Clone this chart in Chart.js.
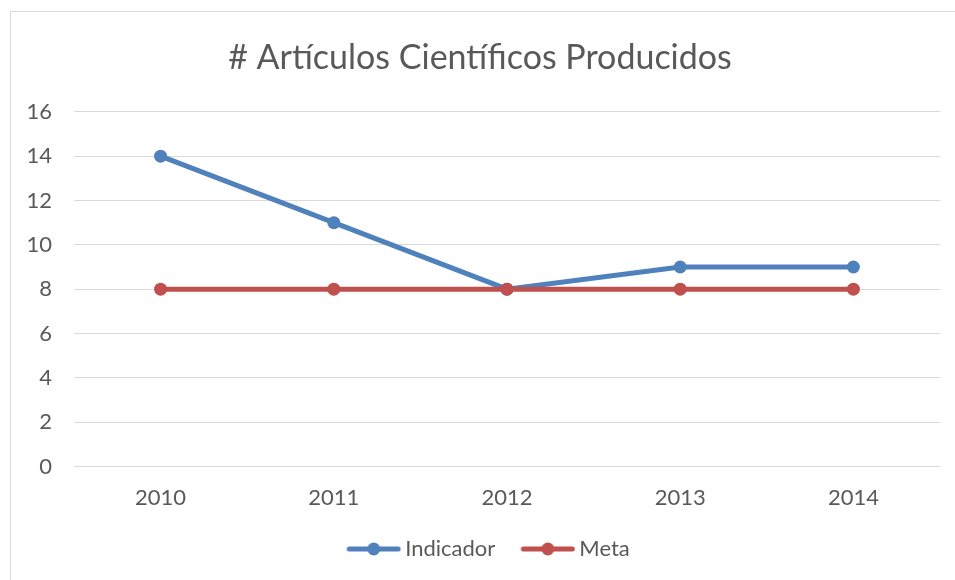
<!DOCTYPE html>
<html><head><meta charset="utf-8">
<script src="https://cdn.jsdelivr.net/npm/chart.js@4"></script>
<style>
html,body{margin:0;padding:0;background:#fff;}
#wrap{position:relative;width:955px;height:580px;overflow:hidden;}
#frame{position:absolute;left:10px;top:11px;width:1000px;height:700px;border:1px solid #d9d9d9;}
canvas{position:absolute;left:0;top:0;}
</style></head>
<body><div id="wrap"><div id="frame"></div><canvas id="c" width="955" height="580"></canvas></div>
<script>
const categories = ['2010','2011','2012','2013','2014'];
const indicador = [14, 11, 8, 9, 9];
const meta = [8, 8, 8, 8, 8];
const seriesNames = ['Indicador','Meta'];
const colors = ['#4F81BD','#C0504D'];
const FONT = 'Lato, "Open Sans", sans-serif';

// legend marker: line with a dot, drawn at the right end of a wider transparent image
function legendIcon(color){
  const cv = document.createElement('canvas');
  cv.width = 78; cv.height = 14;
  const g = cv.getContext('2d');
  const x0 = 23;
  g.strokeStyle = color; g.lineWidth = 5; g.lineCap = 'round';
  g.beginPath(); g.moveTo(x0 + 3, 7); g.lineTo(x0 + 52, 7); g.stroke();
  g.fillStyle = color; g.beginPath(); g.arc(x0 + 27.5, 7, 6.5, 0, Math.PI*2); g.fill();
  return cv;
}
const icons = colors.map(legendIcon);

new Chart(document.getElementById('c'), {
  type: 'line',
  data: {
    labels: categories,
    datasets: [
      {label: seriesNames[0], data: indicador, borderColor: colors[0], backgroundColor: colors[0], borderWidth: 5, pointRadius: 6.5, pointHoverRadius: 6.5, pointBorderWidth: 0, order: 1},
      {label: seriesNames[1], data: meta, borderColor: colors[1], backgroundColor: colors[1], borderWidth: 5, pointRadius: 6.5, pointHoverRadius: 6.5, pointBorderWidth: 0, order: 0}
    ]
  },
  options: {
    responsive: false,
    animation: false,
    layout: {padding: {left: 20, right: 15, top: 38, bottom: 10}},
    plugins: {
      title: {display: true, text: '# Artículos Científicos Producidos', color: '#595959', font: {family: FONT, size: 34, weight: 'normal'}, padding: {top: 0, bottom: 33}},
      legend: {
        position: 'bottom',
        labels: {
          usePointStyle: true, pointStyleWidth: 64, color: '#595959', font: {family: FONT, size: 22}, padding: 9,
          generateLabels: (chart) => chart.data.datasets.map((d, i) => ({text: d.label, pointStyle: icons[i], fillStyle: colors[i], strokeStyle: colors[i], lineWidth: 0, datasetIndex: i, hidden: false, fontColor: '#595959'}))
        }
      },
      tooltip: {enabled: false}
    },
    scales: {
      x: {
        offset: true,
        grid: {display: false, drawTicks: false},
        border: {display: false},
        ticks: {color: '#595959', font: {family: FONT, size: 22}, padding: 18}
      },
      y: {
        min: 0, max: 16,
        ticks: {stepSize: 2, color: '#595959', font: {family: FONT, size: 22}, padding: 22},
        grid: {color: '#d9d9d9', lineWidth: 1, drawTicks: false},
        border: {display: false},
        afterFit: (s) => { s.width = 54; }
      }
    }
  }
});
</script></body></html>
